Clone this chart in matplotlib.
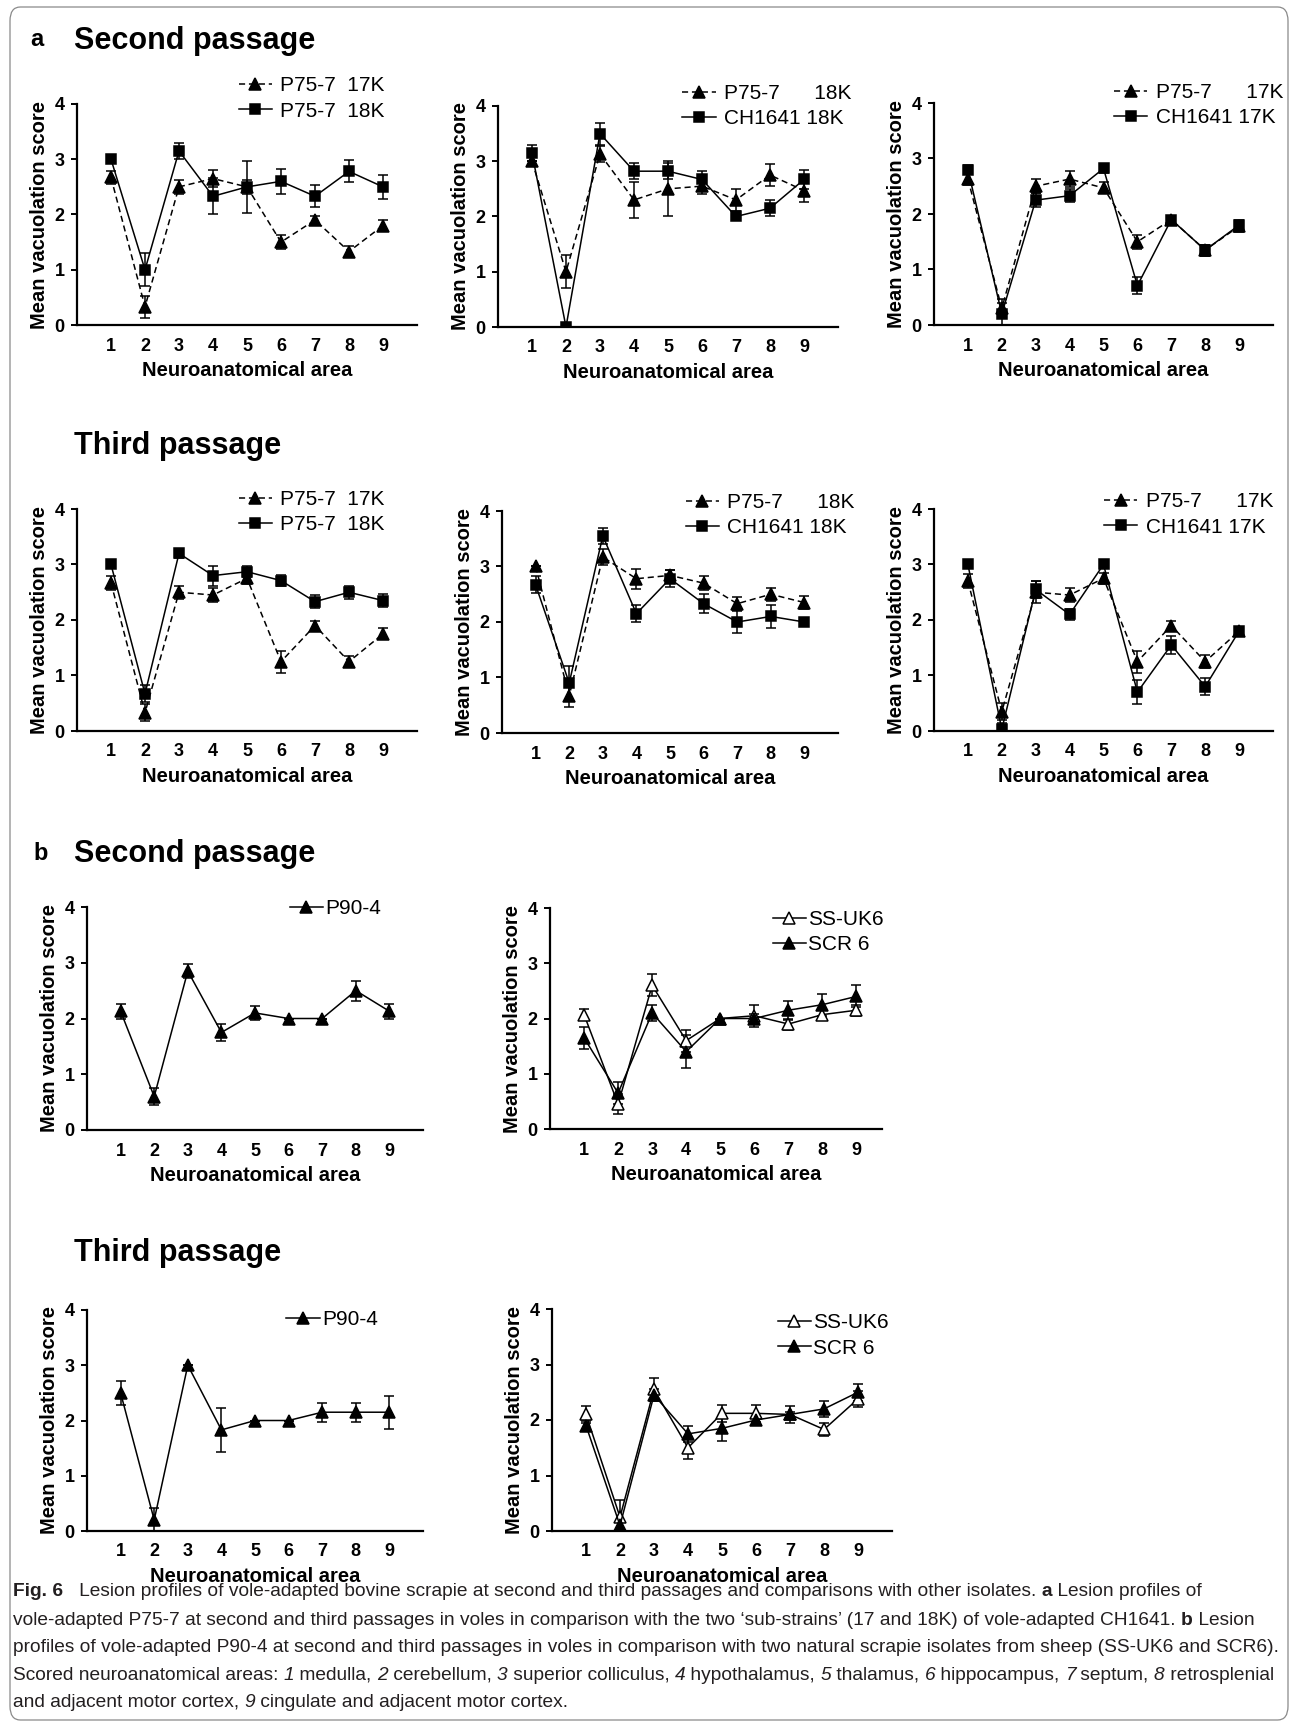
import matplotlib
matplotlib.use("Agg")
import matplotlib.pyplot as plt
from matplotlib.patches import FancyBboxPatch
import numpy as np

W, H = 1295, 1726
plt.rcParams['font.family'] = ['Liberation Sans', 'DejaVu Sans']

areas = [1, 2, 3, 4, 5, 6, 7, 8, 9]

# panel a, second passage
a2_p75_17k = [2.67, 0.33, 2.5, 2.65, 2.5, 1.5, 1.9, 1.33, 1.8]
a2_p75_17k_err = [0.12, 0.2, 0.13, 0.15, 0.12, 0.12, 0.08, 0.1, 0.1]
a2_p75_18k = [3.0, 1.0, 3.15, 2.33, 2.5, 2.6, 2.33, 2.78, 2.5]
a2_p75_18k_err = [0.0, 0.3, 0.15, 0.33, 0.47, 0.23, 0.2, 0.2, 0.22]

a2_p75_18k_b = [3.0, 1.0, 3.13, 2.3, 2.5, 2.55, 2.3, 2.75, 2.47]
a2_p75_18k_b_err = [0.0, 0.3, 0.15, 0.33, 0.5, 0.15, 0.2, 0.2, 0.2]
a2_ch_18k = [3.15, 0.0, 3.5, 2.82, 2.82, 2.67, 2.0, 2.15, 2.67]
a2_ch_18k_err = [0.15, 0.0, 0.2, 0.15, 0.15, 0.15, 0.0, 0.15, 0.18]

a2_p75_17k_c = [2.63, 0.3, 2.5, 2.63, 2.47, 1.5, 1.9, 1.35, 1.78]
a2_p75_17k_c_err = [0.1, 0.17, 0.13, 0.15, 0.1, 0.13, 0.05, 0.1, 0.1]
a2_ch_17k = [2.8, 0.2, 2.25, 2.33, 2.82, 0.71, 1.9, 1.35, 1.8]
a2_ch_17k_err = [0.08, 0.2, 0.12, 0.12, 0.08, 0.15, 0.05, 0.1, 0.1]

# panel a, third passage
a3_p75_17k = [2.67, 0.33, 2.5, 2.45, 2.75, 1.25, 1.9, 1.25, 1.75]
a3_p75_17k_err = [0.13, 0.15, 0.12, 0.12, 0.1, 0.2, 0.08, 0.1, 0.1]
a3_p75_18k = [3.0, 0.67, 3.2, 2.8, 2.87, 2.71, 2.33, 2.5, 2.35]
a3_p75_18k_err = [0.0, 0.15, 0.08, 0.18, 0.1, 0.1, 0.12, 0.12, 0.12]

a3_p75_18k_b = [3.0, 0.67, 3.17, 2.78, 2.84, 2.7, 2.33, 2.5, 2.35]
a3_p75_18k_b_err = [0.0, 0.2, 0.15, 0.18, 0.1, 0.12, 0.12, 0.12, 0.12]
a3_ch_18k = [2.67, 0.9, 3.55, 2.15, 2.78, 2.33, 2.0, 2.1, 2.0]
a3_ch_18k_err = [0.15, 0.3, 0.15, 0.15, 0.15, 0.17, 0.2, 0.2, 0.0]

a3_p75_17k_c = [2.7, 0.35, 2.5, 2.45, 2.75, 1.25, 1.9, 1.25, 1.8]
a3_p75_17k_c_err = [0.12, 0.15, 0.2, 0.12, 0.1, 0.2, 0.08, 0.12, 0.05]
a3_ch_17k = [3.0, 0.03, 2.55, 2.1, 3.0, 0.7, 1.55, 0.8, 1.8]
a3_ch_17k_err = [0.0, 0.12, 0.15, 0.1, 0.0, 0.22, 0.17, 0.15, 0.08]

# panel b
b2_p90 = [2.13, 0.6, 2.85, 1.75, 2.1, 2.0, 2.0, 2.5, 2.13]
b2_p90_err = [0.13, 0.15, 0.13, 0.15, 0.13, 0.0, 0.0, 0.18, 0.13]
b2_ssuk6 = [2.07, 0.45, 2.6, 1.6, 2.0, 2.05, 1.9, 2.07, 2.15]
b2_ssuk6_err = [0.1, 0.18, 0.2, 0.2, 0.0, 0.2, 0.1, 0.1, 0.1]
b2_scr6 = [1.65, 0.65, 2.1, 1.4, 2.0, 2.0, 2.15, 2.25, 2.4]
b2_scr6_err = [0.2, 0.2, 0.15, 0.3, 0.0, 0.08, 0.17, 0.2, 0.2]

b3_p90 = [2.5, 0.2, 3.0, 1.83, 2.0, 2.0, 2.15, 2.15, 2.15]
b3_p90_err = [0.22, 0.22, 0.0, 0.4, 0.0, 0.0, 0.17, 0.17, 0.3]
b3_ssuk6 = [2.1, 0.25, 2.55, 1.5, 2.12, 2.12, 2.1, 1.83, 2.38]
b3_ssuk6_err = [0.15, 0.3, 0.2, 0.2, 0.15, 0.15, 0.15, 0.12, 0.15]
b3_scr6 = [1.9, 0.1, 2.45, 1.75, 1.85, 2.0, 2.1, 2.2, 2.5]
b3_scr6_err = [0.08, 0.1, 0.1, 0.15, 0.23, 0.05, 0.05, 0.15, 0.15]


def axes_at(left, right, top, bottom):
    return fig.add_axes([left / W, 1 - bottom / H, (right - left) / W, (bottom - top) / H])


def series(ax, y, err, style):
    if style == 'dash_tri':
        kw = dict(marker='^', ms=8.5, mfc='black', ls=(0, (4, 2.5)))
    elif style == 'sq':
        kw = dict(marker='s', ms=7.2, mfc='black', ls='-')
    elif style == 'open_tri':
        kw = dict(marker='^', ms=8.5, mfc='white', ls='-')
    else:
        kw = dict(marker='^', ms=8.5, mfc='black', ls='-')
    c = ax.errorbar(areas, y, yerr=err, color='black', mec='black', lw=1.1,
                    mew=1.1, elinewidth=1.1, capsize=3.8, capthick=1.1, **kw)
    return c[0]


def style_axes(ax, xmax=10):
    ax.set_xlim(0, xmax)
    ax.set_ylim(0, 4)
    ax.set_xticks(areas)
    ax.set_yticks([0, 1, 2, 3, 4])
    for s in ['top', 'right']:
        ax.spines[s].set_visible(False)
    for s in ['left', 'bottom']:
        ax.spines[s].set_linewidth(1.6)
    ax.tick_params(axis='y', direction='out', length=4, width=1.4, pad=5,
                   labelsize=13)
    ax.tick_params(axis='x', length=0, pad=9, labelsize=13)
    for lab in ax.get_xticklabels() + ax.get_yticklabels():
        lab.set_fontweight('bold')
    ax.set_xlabel('Neuroanatomical area', fontsize=14.5, fontweight='bold', labelpad=5)
    ax.set_ylabel('Mean vacuolation score', fontsize=14.5, fontweight='bold', labelpad=4)


def add_legend(ax, handles, labels, x, y, pad=0.4):
    ax.legend(handles, labels, loc='upper right', bbox_to_anchor=(x, y),
              frameon=False, fontsize=15, handlelength=1.6, handletextpad=pad,
              borderpad=0, borderaxespad=0, labelspacing=0.3)


fig = plt.figure(figsize=(W / 100, H / 100), dpi=100)

# outer frame
frame = FancyBboxPatch((10 / W, 1 - 1720 / H), 1278 / W, 1713 / H,
                       boxstyle='round,pad=0,rounding_size=0.008',
                       transform=fig.transFigure, fill=False,
                       ec='#8a8a8a', lw=0.9)
fig.patches.append(frame)

# ---- panel a ----
ax = axes_at(77, 417, 104, 325)
h1 = series(ax, a2_p75_17k, a2_p75_17k_err, 'dash_tri')
h2 = series(ax, a2_p75_18k, a2_p75_18k_err, 'sq')
style_axes(ax)
add_legend(ax, [h1, h2], ['P75-7  17K', 'P75-7  18K'], 0.905, 1.125)

ax = axes_at(498, 838, 106, 327)
h1 = series(ax, a2_p75_18k_b, a2_p75_18k_b_err, 'dash_tri')
h2 = series(ax, a2_ch_18k, a2_ch_18k_err, 'sq')
style_axes(ax)
add_legend(ax, [h1, h2], ['P75-7      18K', 'CH1641 18K'], 1.04, 1.1)

ax = axes_at(934, 1273, 103, 325)
h1 = series(ax, a2_p75_17k_c, a2_p75_17k_c_err, 'dash_tri')
h2 = series(ax, a2_ch_17k, a2_ch_17k_err, 'sq')
style_axes(ax)
add_legend(ax, [h1, h2], ['P75-7      17K', 'CH1641 17K'], 1.03, 1.09)

ax = axes_at(77, 417, 509, 731)
h1 = series(ax, a3_p75_17k, a3_p75_17k_err, 'dash_tri')
h2 = series(ax, a3_p75_18k, a3_p75_18k_err, 'sq')
style_axes(ax)
add_legend(ax, [h1, h2], ['P75-7  17K', 'P75-7  18K'], 0.905, 1.085)

ax = axes_at(502, 838, 511, 733)
h1 = series(ax, a3_p75_18k_b, a3_p75_18k_b_err, 'dash_tri')
h2 = series(ax, a3_ch_18k, a3_ch_18k_err, 'sq')
style_axes(ax)
add_legend(ax, [h1, h2], ['P75-7      18K', 'CH1641 18K'], 1.05, 1.08)

ax = axes_at(934, 1273, 509, 731)
h1 = series(ax, a3_p75_17k_c, a3_p75_17k_c_err, 'dash_tri')
h2 = series(ax, a3_ch_17k, a3_ch_17k_err, 'sq')
style_axes(ax)
add_legend(ax, [h1, h2], ['P75-7      17K', 'CH1641 17K'], 1.0, 1.075)

# ---- panel b ----
ax = axes_at(87, 423, 907, 1130)
h1 = series(ax, b2_p90, b2_p90_err, 'tri')
style_axes(ax)
add_legend(ax, [h1], ['P90-4'], 0.875, 1.035, pad=0.1)

ax = axes_at(550, 882, 908, 1129)
h1 = series(ax, b2_ssuk6, b2_ssuk6_err, 'open_tri')
h2 = series(ax, b2_scr6, b2_scr6_err, 'tri')
style_axes(ax, xmax=9.75)
add_legend(ax, [h1, h2], ['SS-UK6', 'SCR 6'], 1.005, 0.99, pad=0.1)

ax = axes_at(87, 423, 1310, 1531)
h1 = series(ax, b3_p90, b3_p90_err, 'tri')
style_axes(ax)
add_legend(ax, [h1], ['P90-4'], 0.865, 1.0, pad=0.1)

ax = axes_at(552, 892, 1309, 1531)
h1 = series(ax, b3_ssuk6, b3_ssuk6_err, 'open_tri')
h2 = series(ax, b3_scr6, b3_scr6_err, 'tri')
style_axes(ax)
add_legend(ax, [h1, h2], ['SS-UK6', 'SCR 6'], 0.99, 0.98, pad=0.1)

# section titles
def ftext(x, y, s, **kw):
    fig.text(x / W, 1 - y / H, s, va='center', ha='left', **kw)

ftext(30, 40, 'a', fontsize=17, fontweight='bold')
ftext(74, 41, 'Second passage', fontsize=22, fontweight='bold')
ftext(74, 446, 'Third passage', fontsize=22, fontweight='bold')
ftext(33, 853, 'b', fontsize=17, fontweight='bold')
ftext(74, 854, 'Second passage', fontsize=22, fontweight='bold')
ftext(74, 1253, 'Third passage', fontsize=22, fontweight='bold')

# caption with mixed styles
cap_font = ['Liberation Sans', 'DejaVu Sans']
cap_size = 13.8
renderer = fig.canvas.get_renderer()


def seg_width(s, weight, style):
    t1 = fig.text(0, 0, s + '|', fontsize=cap_size, fontweight=weight,
                  fontstyle=style, family=cap_font)
    t2 = fig.text(0, 0, '|', fontsize=cap_size, fontweight=weight,
                  fontstyle=style, family=cap_font)
    w = t1.get_window_extent(renderer).width - t2.get_window_extent(renderer).width
    t1.remove()
    t2.remove()
    return w


def cap_line(y, segs):
    x = 13
    for s, weight, style in segs:
        fig.text(x / W, 1 - y / H, s, fontsize=cap_size, fontweight=weight,
                 fontstyle=style, family=cap_font, va='center', ha='left',
                 color='#231f20')
        x += seg_width(s, weight, style)


N, B, I = 'normal', 'bold', 'italic'
cap_line(1592, [('Fig. 6', B, N),
                ('   Lesion profiles of vole-adapted bovine scrapie at second and third passages '
                 'and comparisons with other isolates. ', N, N),
                ('a', B, N), (' Lesion profiles of', N, N)])
cap_line(1620, [('vole-adapted P75-7 at second and third passages in voles in comparison with the '
                 'two \u2018sub-strains\u2019 (17 and 18K) of vole-adapted CH1641. ', N, N),
                ('b', B, N), (' Lesion', N, N)])
cap_line(1647, [('profiles of vole-adapted P90-4 at second and third passages in voles in comparison '
                 'with two natural scrapie isolates from sheep (SS-UK6 and SCR6).', N, N)])
cap_line(1675, [('Scored neuroanatomical areas: ', N, N), ('1', N, I), (' medulla, ', N, N),
                ('2', N, I), (' cerebellum, ', N, N), ('3', N, I), (' superior colliculus, ', N, N),
                ('4', N, I), (' hypothalamus, ', N, N), ('5', N, I), (' thalamus, ', N, N),
                ('6', N, I), (' hippocampus, ', N, N), ('7', N, I), (' septum, ', N, N),
                ('8', N, I), (' retrosplenial', N, N)])
cap_line(1702, [('and adjacent motor cortex, ', N, N), ('9', N, I),
                (' cingulate and adjacent motor cortex.', N, N)])

fig.savefig('out.png', dpi=100)
